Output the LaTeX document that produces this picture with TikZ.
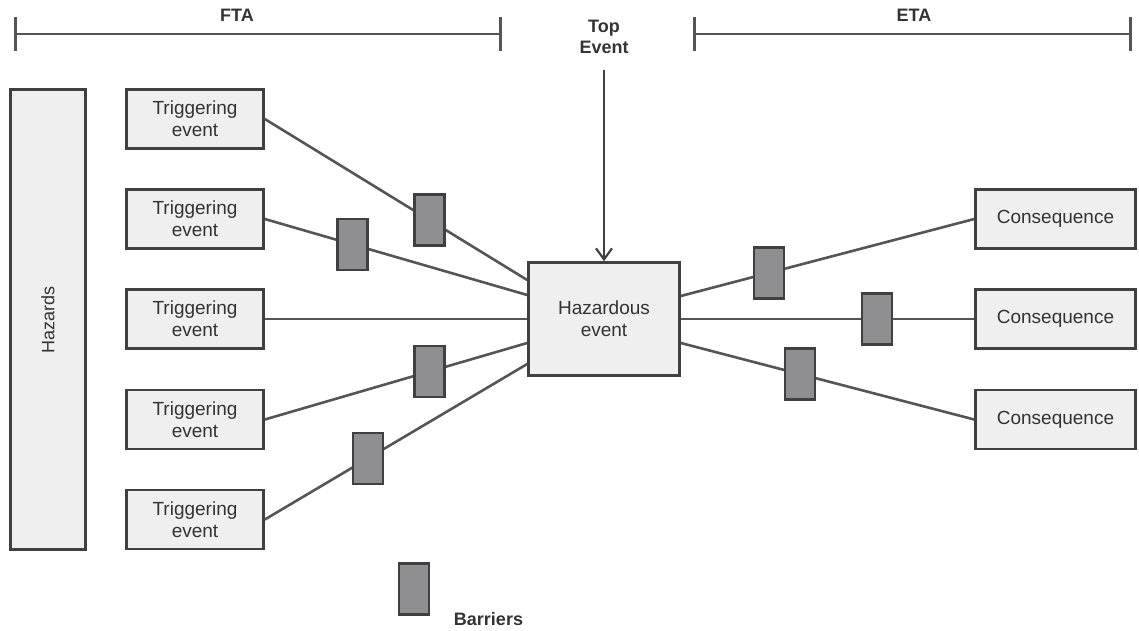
\documentclass[tikz,border=0pt]{standalone}
\usepackage{fontspec}
\setmainfont{Liberation Sans}
\usetikzlibrary{arrows.meta,calc}
\definecolor{boxfill}{HTML}{EFEFEF}
\definecolor{boxline}{HTML}{404040}
\definecolor{connc}{HTML}{555555}
\definecolor{barfill}{HTML}{8F8F91}
\definecolor{txt}{HTML}{333333}
\begin{document}
\begin{tikzpicture}[x=1pt,y=-1pt,
  box/.style={draw=boxline, line width=2.6pt, fill=boxfill, inner sep=0pt, text=txt,
              font=\fontsize{19}{22}\selectfont, align=center},
  trig/.style={box, minimum width=137pt, minimum height=59pt},
  cons/.style={box, minimum width=160pt, minimum height=59pt},
  barrier/.style={draw=boxline, line width=2.6pt, fill=barfill, minimum width=30pt,
                  minimum height=51pt, inner sep=0pt},
  conn/.style={draw=connc, line width=2.6pt},
  hdr/.style={font=\bfseries\fontsize{18}{21}\selectfont, text=txt, align=center, inner sep=0pt},
  spanline/.style={draw=connc, line width=2.6pt, {Bar[width=34pt]}-{Bar[width=34pt]}}
]
\useasboundingbox (0,0) rectangle (1139,630);

% header spans
\coordinate (fl) at (14,34);
\coordinate (fr) at (502,34);
\coordinate (el) at (693,34);
\coordinate (er) at (1132,34);
\draw[spanline] (fl) -- (fr);
\draw[spanline] (el) -- (er);
\node[hdr] (fta) at (237,15) {FTA};
\node[hdr] (eta) at (914,15) {ETA};
\node[hdr] (top) at (604,37) {Top\\Event};

% boxes
\node[box, minimum width=75pt, minimum height=460pt] (hz) at (48,319.5) {};
\node[rotate=90, text=txt, font=\fontsize{18}{21}\selectfont, inner sep=0pt] (hzt) at (hz.center) {Hazards};

\node[trig] (t1) at (195,119) {Triggering\\event};
\node[trig] (t2) at (195,219) {Triggering\\event};
\node[trig] (t3) at (195,319) {Triggering\\event};
\node[trig] (t4) at (195,419.5) {Triggering\\event};
\node[trig] (t5) at (195,519.5) {Triggering\\event};

\node[box, minimum width=151pt, minimum height=113pt] (he) at (604,319) {Hazardous\\event};

\node[cons] (c1) at (1055.5,219) {Consequence};
\node[cons] (c2) at (1055.5,319) {Consequence};
\node[cons] (c3) at (1055.5,419.5) {Consequence};

% top event arrow
\coordinate (tp) at (604,70);
\draw[draw=boxline, line width=2.4pt, -{Straight Barb[length=11pt,width=16pt,line width=2.2pt]}] (tp) -- (he.north);

% left connectors with barriers
\draw[conn] (t1.east) -- node[barrier, pos=0.628] (b1) {} ([yshift=39pt]he.west);
\draw[conn] (t2.east) -- node[barrier, pos=0.334] (b2) {} ([yshift=24pt]he.west);
\draw[conn] (t3.east) -- (he.west);
\draw[conn] (t4.east) -- node[barrier, pos=0.628] (b3) {} ([yshift=-24pt]he.west);
\draw[conn] (t5.east) -- node[barrier, pos=0.393] (b4) {} ([yshift=-45pt]he.west);

% right connectors with barriers
\draw[conn] ([yshift=23pt]he.east) -- node[barrier, pos=0.30] (r1) {} (c1.west);
\draw[conn] (he.east) -- node[barrier, pos=0.669] (r2) {} (c2.west);
\draw[conn] ([yshift=-24pt]he.east) -- node[barrier, pos=0.406] (r3) {} (c3.west);

% legend
\node[barrier] (lb) at (414,589) {};
\node[hdr] (lbt) at (488.5,619.5) {Barriers};
\end{tikzpicture}
\end{document}
